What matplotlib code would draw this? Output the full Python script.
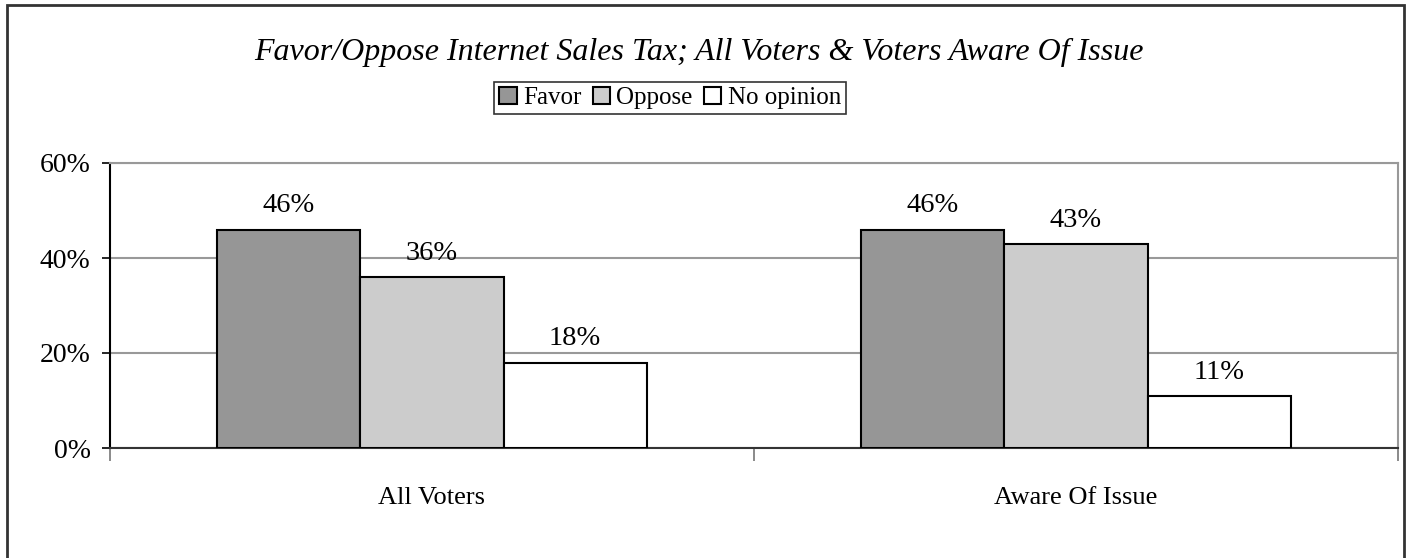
import matplotlib.pyplot as plt
import numpy as np
from matplotlib.patches import Rectangle

plt.rcParams["font.family"] = ["Liberation Serif", "DejaVu Serif"]

categories = ["All Voters", "Aware Of Issue"]
series = ["Favor", "Oppose", "No opinion"]
favor = [46, 46]
oppose = [36, 43]
no_opinion = [18, 11]
colors = ["#969696", "#cccccc", "#ffffff"]
yticks = [0, 20, 40, 60]

fig = plt.figure(figsize=(14.1, 5.58), dpi=100)
ax = fig.add_axes([110 / 1410, 110 / 558, 1288 / 1410, 285 / 558])

x = np.arange(len(categories))
width = 2 / 9
values = [favor, oppose, no_opinion]
for i, (name, vals, col) in enumerate(zip(series, values, colors)):
    bars = ax.bar(x + (i - 1) * width, vals, width, color=col,
                  edgecolor="black", linewidth=1.5, label=name, zorder=3)
    for b, v in zip(bars, vals):
        ax.annotate(f"{v}%", (b.get_x() + b.get_width() / 2, v),
                    xytext=(0, 8), textcoords="offset points",
                    ha="center", va="bottom", fontsize=20.5)

ax.set_xlim(-0.5, 1.5)
ax.set_ylim(0, 60)
ax.set_yticks(yticks)
ax.set_yticklabels([f"{t}%" for t in yticks], fontsize=20)
ax.yaxis.grid(True, color="#999999", linewidth=1.5, zorder=0)
ax.set_axisbelow(True)

ax.set_xticks([-0.5, 0.5, 1.5])
ax.set_xticklabels([])
ax.set_xticks(x, minor=True)
ax.set_xticklabels(categories, minor=True, fontsize=19)
ax.tick_params(axis="x", which="major", length=9, width=1.2, color="#777777")
ax.tick_params(axis="x", which="minor", length=0, pad=28)
ax.tick_params(axis="y", length=6, width=1.2, color="black", pad=8)

ax.spines["left"].set_color("black")
ax.spines["left"].set_linewidth(1.5)
ax.spines["bottom"].set_color("#333333")
ax.spines["bottom"].set_linewidth(1.5)
ax.spines["top"].set_color("#999999")
ax.spines["top"].set_linewidth(1.5)
ax.spines["right"].set_color("#999999")
ax.spines["right"].set_linewidth(1.5)

fig.text(699 / 1410, 1 - 52 / 558, "Favor/Oppose Internet Sales Tax; All Voters & Voters Aware Of Issue",
         ha="center", va="center", fontsize=23, style="italic")

leg = fig.legend(loc="center", bbox_to_anchor=(670 / 1410, 1 - 98 / 558), ncol=3,
                 fontsize=18, frameon=True, fancybox=False, handlelength=0.7,
                 handleheight=0.7, handletextpad=0.25, columnspacing=0.45,
                 borderpad=0.2, borderaxespad=0)
leg.get_frame().set_edgecolor("black")
leg.get_frame().set_linewidth(1.2)

fig.patches.append(Rectangle((7 / 1410, -0.05), 1397 / 1410, 1.05 - 5 / 558,
                             transform=fig.transFigure, fill=False,
                             edgecolor="#333333", linewidth=2))

fig.savefig("out.png", dpi=100)
